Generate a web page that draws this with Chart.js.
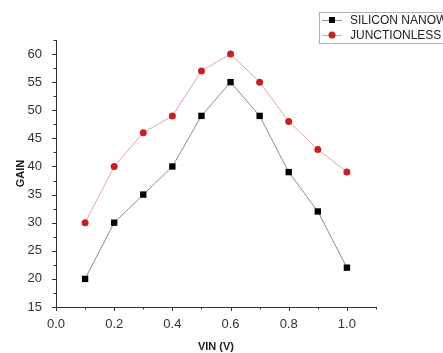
<!DOCTYPE html>
<html>
<head>
<meta charset="utf-8">
<script src="https://cdn.jsdelivr.net/npm/chart.js@4/dist/chart.umd.min.js"></script>
<style>
  html, body { margin: 0; padding: 0; background: #fff; }
  #wrap { width: 443px; height: 353px; position: relative; }
</style>
</head>
<body>
<div id="wrap"><canvas id="gainChart"></canvas></div>
<script>
// values
const vin = [0.1, 0.2, 0.3, 0.4, 0.5, 0.6, 0.7, 0.8, 0.9, 1.0];
const siliconGain = [20, 30, 35, 40, 49, 55, 49, 39, 32, 22];
const junctionlessGain = [30, 40, 46, 49, 57, 60, 55, 48, 43, 39];
const seriesNames = ['SILICON NANOWIRE FET', 'JUNCTIONLESS TRANSISTOR'];

const toPoints = (xs, ys) => xs.map((x, i) => ({ x: x, y: ys[i] }));

// outward major/minor ticks on the left and bottom axes, and the boxed legend
const axisTicks = {
    id: 'axisTicks',
    afterDraw(chart) {
        const c = chart.ctx;
        const xs = chart.scales.x, ys = chart.scales.y;
        c.save();
        c.strokeStyle = '#333';
        c.lineWidth = 1;
        c.beginPath();
        for (let v = 0; v <= 1.1001; v += 0.1) {
            const px = Math.round(xs.getPixelForValue(v)) + 0.5;
            const major = Math.round(v * 10) % 2 === 0;
            c.moveTo(px, ys.bottom);
            c.lineTo(px, ys.bottom + (major ? 4 : 2.5));
        }
        for (let v = 15; v <= 62.5001; v += 2.5) {
            const py = Math.round(ys.getPixelForValue(v)) + 0.5;
            const major = v % 5 === 0;
            c.moveTo(xs.left, py);
            c.lineTo(xs.left - (major ? 4 : 2.5), py);
        }
        c.stroke();

        // legend
        const lx = 319, ly = 12;
        c.strokeStyle = '#b0b0b0';
        c.strokeRect(lx + 0.5, ly + 0.5, 140, 31);
        c.font = '12px "Liberation Sans", Arial, sans-serif';
        c.textBaseline = 'middle';
        chart.data.datasets.forEach((ds, i) => {
            const y = ly + 8 + i * 15;
            c.strokeStyle = ds.borderColor;
            c.beginPath();
            c.moveTo(lx + 3, y + 0.5);
            c.lineTo(lx + 23, y + 0.5);
            c.stroke();
            c.fillStyle = ds.pointBackgroundColor;
            if (ds.pointStyle === 'rect') {
                c.fillRect(lx + 10, y - 3, 6, 6);
            } else {
                c.beginPath();
                c.arc(lx + 13, y, 3.5, 0, Math.PI * 2);
                c.fill();
            }
            c.fillStyle = '#222';
            c.fillText(ds.label, lx + 31, y + 1);
        });
        c.restore();
    }
};

new Chart(document.getElementById('gainChart').getContext('2d'), {
    type: 'line',
    data: {
        datasets: [{
            label: seriesNames[0],
            data: toPoints(vin, siliconGain),
            borderColor: '#8c8c8c',
            borderWidth: 1,
            pointStyle: 'rect',
            pointRadius: 4.5,
            pointBackgroundColor: '#000',
            pointBorderColor: '#000',
            pointBorderWidth: 0
        }, {
            label: seriesNames[1],
            data: toPoints(vin, junctionlessGain),
            borderColor: '#e6a3a3',
            borderWidth: 1,
            pointStyle: 'circle',
            pointRadius: 3.5,
            pointBackgroundColor: '#c62022',
            pointBorderColor: '#c62022',
            pointBorderWidth: 0
        }]
    },
    options: {
        responsive: true,
        maintainAspectRatio: false,
        animation: false,
        layout: { padding: { left: 0, right: 67, top: 40, bottom: 0 } },
        scales: {
            x: {
                type: 'linear',
                min: 0,
                max: 1.1,
                grid: { display: false },
                border: { display: true, color: '#333', width: 1 },
                ticks: {
                    stepSize: 0.1,
                    autoSkip: false,
                    maxRotation: 0,
                    padding: 2,
                    color: '#333',
                    font: { family: '"Liberation Sans", Arial, sans-serif', size: 13 },
                    callback: v => {
                        const k = Math.round(v * 10);
                        return (k % 2 === 0 && k <= 10) ? (k / 10).toFixed(1) : '';
                    }
                },
                title: {
                    display: true,
                    text: 'VIN (V)',
                    color: '#222',
                    padding: { top: 4, bottom: -1 },
                    font: { family: '"Liberation Sans", Arial, sans-serif', size: 11, weight: 'bold' }
                },
                afterFit: s => { s.height = 46; }
            },
            y: {
                min: 15,
                max: 62.5,
                grid: { display: false },
                border: { display: true, color: '#333', width: 1 },
                ticks: {
                    stepSize: 2.5,
                    autoSkip: false,
                    padding: 6,
                    color: '#333',
                    font: { family: '"Liberation Sans", Arial, sans-serif', size: 13 },
                    callback: v => (Math.abs(v % 5) < 1e-6 ? String(Math.round(v)) : '')
                },
                title: {
                    display: true,
                    text: 'GAIN',
                    color: '#222',
                    padding: { top: 14, bottom: 4 },
                    font: { family: '"Liberation Sans", Arial, sans-serif', size: 11, weight: 'bold' }
                },
                afterFit: s => { s.width = 56; }
            }
        },
        plugins: {
            legend: { display: false },
            tooltip: { enabled: false }
        }
    },
    plugins: [axisTicks]
});
</script>
</body>
</html>
